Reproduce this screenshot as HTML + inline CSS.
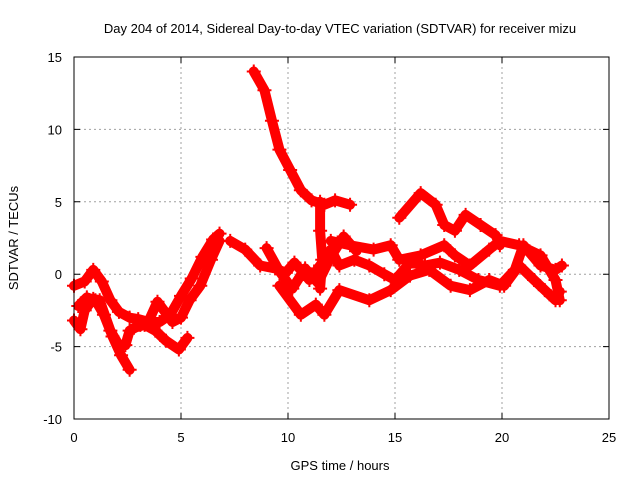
<!DOCTYPE html>
<html><head><meta charset="utf-8"><style>
body{margin:0;background:#fff;}
svg{display:block;font-family:"Liberation Sans",sans-serif;}
</style></head><body>
<svg id="chart" width="640" height="480">
<text x="340" y="33" text-anchor="middle" font-size="13">Day 204 of 2014, Sidereal Day-to-day VTEC variation (SDTVAR) for receiver mizu</text>
<text x="340" y="470" text-anchor="middle" font-size="13">GPS time / hours</text>
<text x="18" y="238" text-anchor="middle" font-size="13" transform="rotate(-90 18 238)">SDTVAR / TECUs</text>
<g id="grid"></g>
<g id="series"></g>
<rect x="74" y="57" width="535" height="362" fill="none" stroke="#000" stroke-width="1"/>
</svg>
<script>
const xTicks=[0,5,10,15,20,25];
const yTicks=[-10,-5,0,5,10,15];
const s1h=[0,0.5,0.9,1.3,1.7,2.1,2.6,3.0,3.5,4.0,4.5,5.0,5.5,6.0,6.5,6.8];
const s1v=[-0.8,-0.5,0.3,-0.5,-1.8,-2.6,-3.0,-3.1,-3.3,-3.3,-2.8,-1.5,-0.3,1.2,2.4,2.8];
const s2h=[0,0.3,0.5,0.9,1.2,1.7,2.1,2.4,2.6,3.1,3.5,3.9,4.2,4.6,5.0,5.4,5.9,6.4,6.8];
const s2v=[-3.2,-3.8,-2.5,-1.7,-1.8,-3.9,-4.9,-4.9,-3.9,-3.5,-3.2,-1.9,-2.5,-3.3,-3.0,-1.8,-0.8,1.0,2.3];
const s3h=[0.2,0.6,1.0,1.4,1.8,2.2,2.6];
const s3v=[-2.2,-1.6,-1.8,-2.8,-4.3,-5.6,-6.6];
const s4h=[2.8,3.3,3.8,4.3,4.9,5.3];
const s4v=[-3.7,-3.5,-3.9,-4.6,-5.2,-4.4];
const s5h=[8.4,8.9,9.25,9.6,10.1,10.6,11.1,11.7,12.2,12.9];
const s5v=[14,12.7,10.6,8.6,7.2,5.8,5.1,4.8,5.1,4.8];
const s6h=[7.3,8,8.7,9.4,9.9,10.3,11,11.5,12,12.4,13.1,13.8,14.5,15,15.7,16.4,17.1,18,18.9,19.9,20.6,21,21.8,22.5,22.8];
const s6v=[2.3,1.7,0.6,0.4,0.1,0.8,-0.4,0.6,1.7,0.6,1.0,0.6,0,-0.4,0.8,0.6,0.8,0.3,-0.4,-0.8,0.3,2.0,0.6,0.3,0.6];
const s7h=[12,12.9,14,14.8,15.2,16.2,17.3,17.8,18.5,19.4,19.9,20.8,21.8,22.5,22.7];
const s7v=[2.3,2.0,1.7,2.0,1.0,1.3,2.0,1.3,0.6,1.7,2.3,2.0,1.3,-0.4,-1.8];
const s8h=[9.6,10.6,11.3,11.7,12.4,13.8,14.8,15.7,16.6,17.6,18.5,19.4,20.1,20.8,21.5,22,22.5,22.7];
const s8v=[-0.8,-2.8,-2.1,-2.8,-1.1,-1.8,-1.1,-0.1,0.3,-0.8,-1.1,-0.4,-0.8,0.6,-0.4,-1.1,-1.8,-1.2];
const s9h=[15.2,16.2,16.9,17.3,17.8,18.3,19,19.7,19.9];
const s9v=[3.9,5.6,4.8,3.4,3.0,4.1,3.4,2.7,2.0];
const s10h=[11.5,11.5,11.6,11.5];
const s10v=[5.0,3.0,1.0,-1.0];
const s11h=[9.0,9.6,10.2,10.8,11.4,12.0,12.6,13.2];
const s11v=[1.8,0.2,-1.0,0.4,-0.6,1.2,2.6,1.6];
const seriesH=[s1h,s2h,s3h,s4h,s5h,s6h,s7h,s8h,s9h,s10h,s11h];
const seriesV=[s1v,s2v,s3v,s4v,s5v,s6v,s7v,s8v,s9v,s10v,s11v];
const X0=74,X1=609,Y0=419,Y1=57;
const xs=h=>X0+(h-0)/(25-0)*(X1-X0);
const ys=v=>Y0-(v+10)/(25)*(Y0-Y1);
const NS='http://www.w3.org/2000/svg';
const svg=document.getElementById('chart');
const grid=document.getElementById('grid');
xTicks.forEach(t=>{
  const x=xs(t);
  if(t>0&&t<25){const l=document.createElementNS(NS,'line');
  l.setAttribute('x1',x);l.setAttribute('x2',x);l.setAttribute('y1',Y1);l.setAttribute('y2',Y0);
  l.setAttribute('stroke','#a0a0a0');l.setAttribute('stroke-dasharray','2,3');
  
  
  grid.appendChild(l);}
  const tk=document.createElementNS(NS,'path');
  tk.setAttribute('d',`M${x},${Y0}v-6M${x},${Y1}v6`);tk.setAttribute('stroke','#000');
  
  
  grid.appendChild(tk);
  const tx=document.createElementNS(NS,'text');
  tx.setAttribute('x',x);tx.setAttribute('y',Y0+23);tx.setAttribute('text-anchor','middle');tx.setAttribute('font-size','13');
  tx.textContent=t;
  
  
  svg.appendChild(tx);
});
yTicks.forEach(t=>{
  const y=ys(t);
  if(t>-10&&t<15){const l=document.createElementNS(NS,'line');
  l.setAttribute('x1',X0);l.setAttribute('x2',X1);l.setAttribute('y1',y);l.setAttribute('y2',y);
  l.setAttribute('stroke','#a0a0a0');l.setAttribute('stroke-dasharray','2,3');
  
  
  grid.appendChild(l);}
  const tk=document.createElementNS(NS,'path');
  tk.setAttribute('d',`M${X0},${y}h6M${X1},${y}h-6`);tk.setAttribute('stroke','#000');
  
  
  grid.appendChild(tk);
  const tx=document.createElementNS(NS,'text');
  tx.setAttribute('x',X0-12);tx.setAttribute('y',y+5);tx.setAttribute('text-anchor','end');tx.setAttribute('font-size','13');
  tx.textContent=t;
  
  
  svg.appendChild(tx);
});
const sg=document.getElementById('series');
seriesH.forEach((H,i)=>{
  const V=seriesV[i];
  const pl=document.createElementNS(NS,'polyline');
  pl.setAttribute('points',H.map((h,j)=>xs(h)+','+ys(V[j])).join(' '));
  pl.setAttribute('fill','none');pl.setAttribute('stroke','#ff0000');
  pl.setAttribute('stroke-width','10');pl.setAttribute('stroke-linejoin','round');pl.setAttribute('stroke-linecap','round');
  
  
  sg.appendChild(pl);
  H.forEach((h,j)=>{
    const x=xs(h),y=ys(V[j]);
    const p=document.createElementNS(NS,'path');
    p.setAttribute('d',`M${x-7},${y}h14M${x},${y-7}v14`);
    p.setAttribute('stroke','#ff0000');p.setAttribute('stroke-width','2');
    
    
    sg.appendChild(p);
  });
});
</script>
</body></html>
